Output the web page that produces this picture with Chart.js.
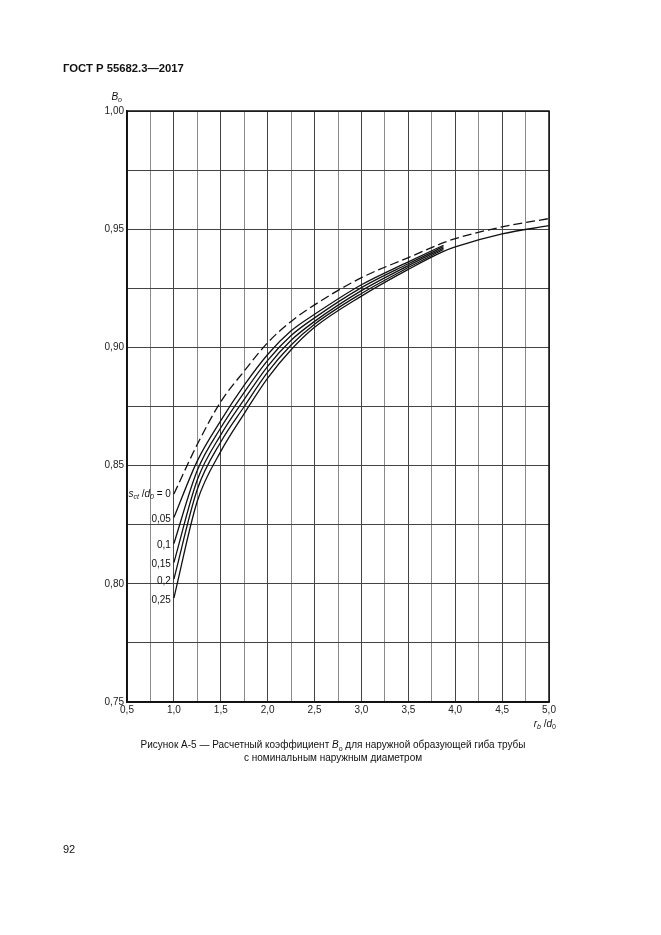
<!DOCTYPE html>
<html>
<head>
<meta charset="utf-8">
<script src="https://cdn.jsdelivr.net/npm/chart.js@4"></script>
<style>
  html, body { margin: 0; padding: 0; background: #fff; }
  body { width: 661px; height: 935px; position: relative; overflow: hidden;
         font-family: "Liberation Sans", Arial, sans-serif; color: #111; }
  #wrap { position: absolute; left: 0; top: 0; width: 661px; height: 935px; }
  .head { position: absolute; left: 63px; top: 62px; font-size: 11.3px; font-weight: bold; }
  .cap { position: absolute; left: 0; width: 666px; text-align: center; font-size: 10px; }
  .page { position: absolute; left: 63px; top: 843px; font-size: 11px; }
</style>
</head>
<body>
<div id="wrap"><canvas id="chart" width="661" height="935"></canvas></div>
<div class="head">ГОСТ Р 55682.3—2017</div>
<div class="cap" style="top:739px">Рисунок А-5 — Расчетный коэффициент <i>B</i><sub style="font-size:7px">o</sub> для наружной образующей гиба трубы</div>
<div class="cap" style="top:752px">с номинальным наружным диаметром</div>
<div class="page">92</div>
<script>
// значения r_b/d_0 (ось X)
var xShort = [1.0, 1.25, 1.5, 1.75, 2.0, 2.25, 2.5, 3.0, 3.5, 3.875];
var xLong = [1.0, 1.25, 1.5, 1.75, 2.0, 2.25, 2.5, 3.0, 3.5, 3.875, 4.0, 4.5, 5.0];

// s_ct/d_0 = 0 (штриховая линия)
var b0_000 = [0.838, 0.859, 0.877, 0.890, 0.902, 0.911, 0.918, 0.9295, 0.938, 0.9443, 0.946, 0.951, 0.9545];
// сплошные линии
var b0_005 = [0.828, 0.852, 0.869, 0.884, 0.897, 0.907, 0.914, 0.9265, 0.9362, 0.9432];
var b0_010 = [0.817, 0.848, 0.866, 0.881, 0.8945, 0.905, 0.9125, 0.9253, 0.9354, 0.9426];
var b0_015 = [0.809, 0.844, 0.863, 0.878, 0.892, 0.903, 0.911, 0.924, 0.9346, 0.942];
var b0_020 = [0.802, 0.840, 0.860, 0.875, 0.8895, 0.901, 0.9098, 0.9228, 0.9338, 0.9414];
var b0_025 = [0.794, 0.835, 0.856, 0.872, 0.887, 0.899, 0.9085, 0.9217, 0.933, 0.9406, 0.9425, 0.948, 0.9515];

var curveLabels = ['0', '0,05', '0,1', '0,15', '0,2', '0,25'];

var xTicks = { min: 0.5, max: 5.0, step: 0.25 };
var yTicks = { min: 0.75, max: 1.0, step: 0.025 };

function pts(xs, ys) {
    return ys.map(function(v, i) { return { x: xs[i], y: v }; });
}

var FONT = '"Liberation Sans", Arial, sans-serif';

// надписи кривых, подписи осей, рамка
var extras = {
    id: 'extras',
    afterDraw: function(chart) {
        var ctx = chart.ctx;
        var a = chart.chartArea;
        var xs = chart.scales.x, ys = chart.scales.y;
        ctx.save();
        ctx.strokeStyle = '#111';
        ctx.lineWidth = 1.5;
        ctx.strokeRect(a.left, a.top, a.right - a.left, a.bottom - a.top);

        ctx.fillStyle = '#111';
        ctx.textBaseline = 'middle';

        function drawParts(parts, xRight, y) {
            // считаем ширину
            var w = 0;
            parts.forEach(function(p) {
                ctx.font = (p.i ? 'italic ' : '') + (p.s ? '7px ' : '10px ') + FONT;
                w += ctx.measureText(p.t).width;
            });
            var x = xRight - w;
            ctx.textAlign = 'left';
            parts.forEach(function(p) {
                ctx.font = (p.i ? 'italic ' : '') + (p.s ? '7px ' : '10px ') + FONT;
                ctx.fillText(p.t, x, p.s ? y + 3 : y);
                x += ctx.measureText(p.t).width;
            });
        }

        var firsts = [b0_000[0], b0_005[0], b0_010[0], b0_015[0], b0_020[0], b0_025[0]];
        var x0 = xs.getPixelForValue(xShort[0]) - 3;
        firsts.forEach(function(v, i) {
            var y = ys.getPixelForValue(v);
            if (i === 0) {
                drawParts([{ t: 's', i: true }, { t: 'ct', i: true, s: true }, { t: ' /', i: false },
                           { t: 'd', i: true }, { t: '0', i: true, s: true }, { t: ' = ' + curveLabels[0] }], x0, y);
            } else {
                drawParts([{ t: curveLabels[i] }], x0, y + 2);
            }
        });

        // B_o над осью Y
        drawParts([{ t: 'B', i: true }, { t: 'o', i: true, s: true }], a.left - 5, a.top - 14);
        // r_b/d_0 под осью X
        drawParts([{ t: 'r', i: true }, { t: 'b', i: true, s: true }, { t: ' /' },
                   { t: 'd', i: true }, { t: '0', s: true }], a.right + 7, a.bottom + 22);
        ctx.restore();
    }
};

var solid = { borderColor: '#111', borderWidth: 1.3, pointRadius: 0, fill: false, cubicInterpolationMode: 'monotone' };

new Chart(document.getElementById('chart').getContext('2d'), {
    type: 'line',
    data: {
        datasets: [
            Object.assign({}, solid, { data: pts(xLong, b0_000), borderDash: [9, 4] }),
            Object.assign({}, solid, { data: pts(xShort, b0_005) }),
            Object.assign({}, solid, { data: pts(xShort, b0_010) }),
            Object.assign({}, solid, { data: pts(xShort, b0_015) }),
            Object.assign({}, solid, { data: pts(xShort, b0_020) }),
            Object.assign({}, solid, { data: pts(xLong, b0_025) })
        ]
    },
    options: {
        responsive: false,
        animation: false,
        layout: { padding: { left: 87, top: 111, right: 112, bottom: 213 } },
        plugins: { legend: { display: false }, tooltip: { enabled: false } },
        scales: {
            x: {
                type: 'linear',
                min: xTicks.min, max: xTicks.max,
                afterFit: function(s) { s.height = 20; },
                ticks: {
                    stepSize: xTicks.step,
                    autoSkip: false,
                    maxRotation: 0,
                    padding: 2,
                    color: '#222',
                    font: { family: FONT, size: 10 },
                    callback: function(v) {
                        return Math.abs(v * 2 - Math.round(v * 2)) < 1e-6 ? v.toFixed(1).replace('.', ',') : '';
                    }
                },
                grid: {
                    drawTicks: false,
                    lineWidth: 1,
                    color: function(c) {
                        var v = c.tick ? c.tick.value : 0;
                        return Math.abs(v * 2 - Math.round(v * 2)) < 1e-6 ? '#444' : '#8a8a8a';
                    }
                },
                border: { color: '#111', width: 1.5 }
            },
            y: {
                type: 'linear',
                min: yTicks.min, max: yTicks.max,
                afterFit: function(s) { s.width = 40; },
                ticks: {
                    stepSize: yTicks.step,
                    autoSkip: false,
                    padding: 3,
                    color: '#222',
                    font: { family: FONT, size: 10 },
                    callback: function(v) {
                        return Math.abs(v * 20 - Math.round(v * 20)) < 1e-6 ? v.toFixed(2).replace('.', ',') : '';
                    }
                },
                grid: { drawTicks: false, lineWidth: 1, color: '#444' },
                border: { color: '#111', width: 1.5 }
            }
        }
    },
    plugins: [extras]
});
</script>
</body>
</html>
